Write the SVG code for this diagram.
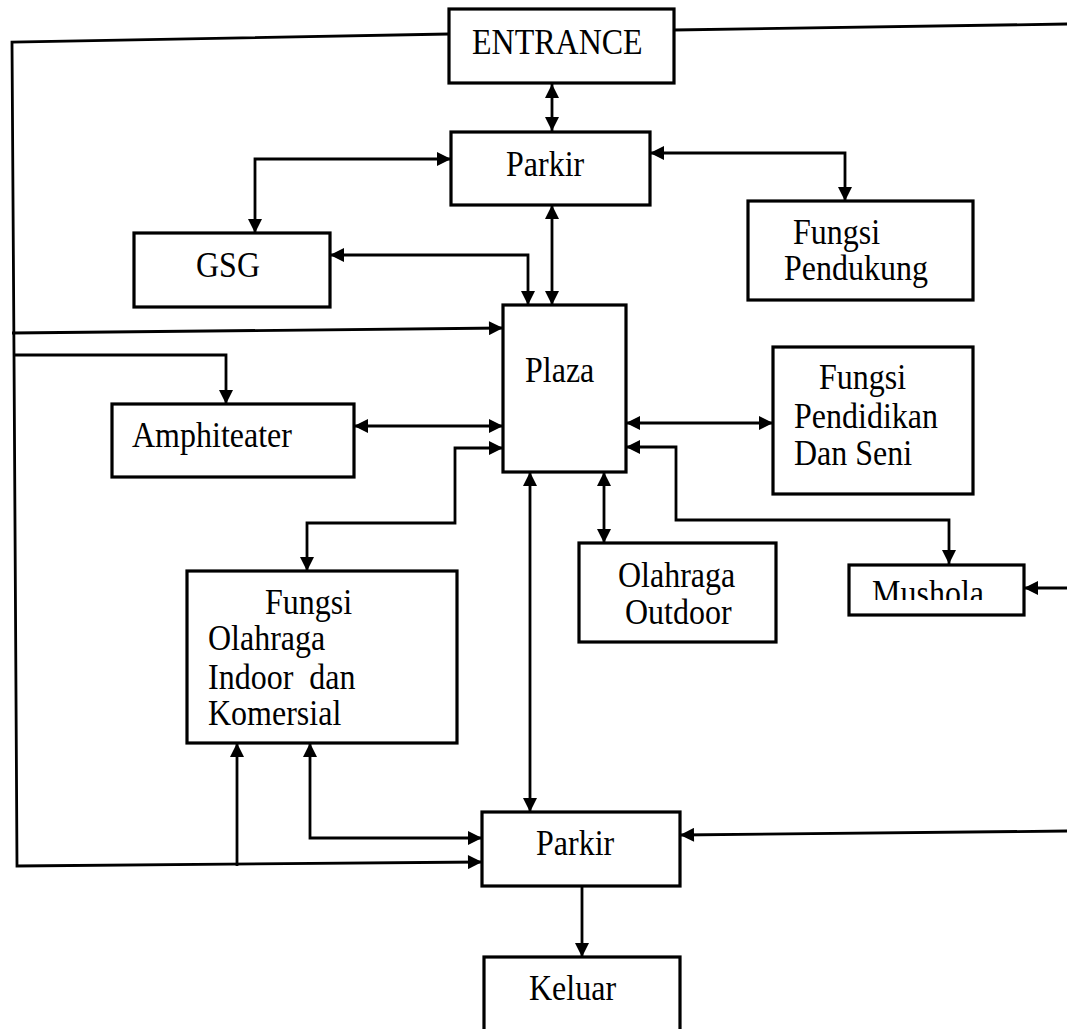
<svg xmlns="http://www.w3.org/2000/svg" width="1067" height="1029" viewBox="0 0 1067 1029">
<defs>
<style>
.box{fill:#fff;stroke:#000;stroke-width:3.2}
.ln{fill:none;stroke:#000;stroke-width:2.8}
.t{font-family:"Liberation Serif","Times New Roman",serif;font-size:32px;fill:#000}
</style>
<marker id="ah" viewBox="0 0 10 10" refX="10" refY="5" markerWidth="16" markerHeight="14" markerUnits="userSpaceOnUse" orient="auto-start-reverse">
<path d="M0,0 L10,5 L0,10 z" fill="#000"/>
</marker>
<clipPath id="mclip"><rect x="849" y="565" width="175" height="35"/></clipPath>
</defs>
<rect width="1067" height="1029" fill="#fff"/>
<g id="connectors">
<path class="ln" d="M449,34 L12,42 L14,355 L17,866 L482,862" marker-end="url(#ah)"/>
<path class="ln" d="M12,333 L503,328" marker-end="url(#ah)"/>
<path class="ln" d="M14,355 L226,355 L226,404" marker-end="url(#ah)"/>
<path class="ln" d="M237,866 L237,743" marker-end="url(#ah)"/>
<path class="ln" d="M674,30 L1067,24"/>
<path class="ln" d="M552,84 L552,131" marker-start="url(#ah)" marker-end="url(#ah)"/>
<path class="ln" d="M451,159 L255,159 L255,233" marker-start="url(#ah)" marker-end="url(#ah)"/>
<path class="ln" d="M650,153 L845,153 L845,201" marker-start="url(#ah)" marker-end="url(#ah)"/>
<path class="ln" d="M552,205 L552,305" marker-start="url(#ah)" marker-end="url(#ah)"/>
<path class="ln" d="M330,255 L528,255 L528,305" marker-start="url(#ah)" marker-end="url(#ah)"/>
<path class="ln" d="M354,426 L503,426" marker-start="url(#ah)" marker-end="url(#ah)"/>
<path class="ln" d="M503,448 L455,448 L455,523 L307,523 L307,571" marker-start="url(#ah)" marker-end="url(#ah)"/>
<path class="ln" d="M626,423 L773,423" marker-start="url(#ah)" marker-end="url(#ah)"/>
<path class="ln" d="M626,447 L676,447 L676,520 L949,520 L949,564" marker-start="url(#ah)" marker-end="url(#ah)"/>
<path class="ln" d="M604,472 L604,543" marker-start="url(#ah)" marker-end="url(#ah)"/>
<path class="ln" d="M1067,588 L1024,588" marker-end="url(#ah)"/>
<path class="ln" d="M530,472 L530,812" marker-start="url(#ah)" marker-end="url(#ah)"/>
<path class="ln" d="M310,743 L310,838 L482,838" marker-start="url(#ah)" marker-end="url(#ah)"/>
<path class="ln" d="M1067,831 L680,835" marker-end="url(#ah)"/>
<path class="ln" d="M582,886 L582,957" marker-end="url(#ah)"/>
</g>
<g id="entrance"><rect class="box" x="449" y="9" width="225" height="74"/><text class="t" transform="translate(472,54) scale(1,1.12)">ENTRANCE</text></g>
<g id="parkir-top"><rect class="box" x="451" y="132" width="199" height="73"/><text class="t" transform="translate(506,176) scale(1,1.12)">Parkir</text></g>
<g id="fungsi-pendukung"><rect class="box" x="748" y="201" width="225" height="99"/><text class="t" transform="translate(793,244) scale(1,1.12)">Fungsi</text><text class="t" transform="translate(784,280) scale(1,1.12)">Pendukung</text></g>
<g id="gsg"><rect class="box" x="134" y="233" width="196" height="74"/><text class="t" transform="translate(196,277) scale(1,1.12)">GSG</text></g>
<g id="plaza"><rect class="box" x="503" y="305" width="123" height="167"/><text class="t" transform="translate(525,382) scale(1,1.12)">Plaza</text></g>
<g id="amphiteater"><rect class="box" x="112" y="404" width="242" height="73"/><text class="t" transform="translate(132,447) scale(1,1.12)">Amphiteater</text></g>
<g id="fungsi-pendidikan"><rect class="box" x="773" y="347" width="200" height="147"/><text class="t" transform="translate(819,389) scale(1,1.12)">Fungsi</text><text class="t" transform="translate(794,428) scale(1,1.12)">Pendidikan</text><text class="t" transform="translate(794,465) scale(1,1.12)">Dan Seni</text></g>
<g id="fungsi-olahraga"><rect class="box" x="187" y="571" width="270" height="172"/><text class="t" transform="translate(265,614) scale(1,1.12)">Fungsi</text><text class="t" transform="translate(208,650) scale(1,1.12)">Olahraga</text><text class="t" transform="translate(208,689) scale(1,1.12)" xml:space="preserve">Indoor  dan</text><text class="t" transform="translate(208,725) scale(1,1.12)">Komersial</text></g>
<g id="olahraga-outdoor"><rect class="box" x="579" y="543" width="197" height="99"/><text class="t" transform="translate(618,587) scale(1,1.12)">Olahraga</text><text class="t" transform="translate(625,624) scale(1,1.12)">Outdoor</text></g>
<g id="mushola"><rect class="box" x="849" y="565" width="175" height="50"/><g clip-path="url(#mclip)"><text class="t" transform="translate(872,605) scale(1,1.12)">Mushola</text></g></g>
<g id="parkir-bottom"><rect class="box" x="482" y="812" width="198" height="74"/><text class="t" transform="translate(536,855) scale(1,1.12)">Parkir</text></g>
<g id="keluar"><rect class="box" x="484" y="957" width="196" height="90"/><text class="t" transform="translate(529,1000) scale(1,1.12)">Keluar</text></g>
</svg>
